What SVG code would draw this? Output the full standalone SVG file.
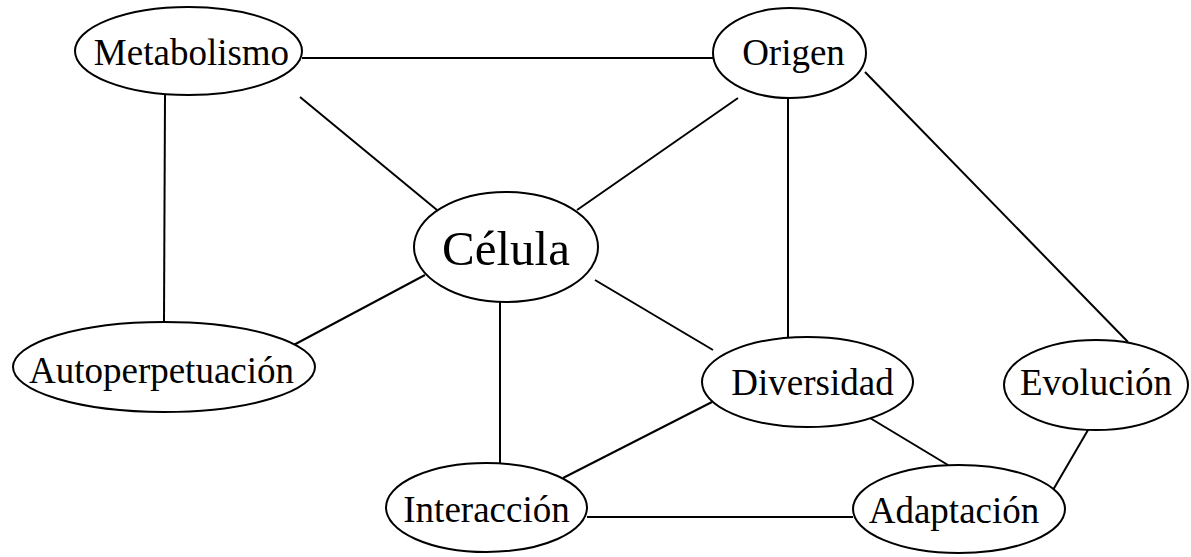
<svg xmlns="http://www.w3.org/2000/svg" width="1191" height="557" viewBox="0 0 1191 557">
  <style>
    .edge { stroke: #000; stroke-width: 2; fill: none; }
    .node ellipse { fill: #fff; stroke: #000; stroke-width: 2; }
    .node text { font-family: "Liberation Serif", "Times New Roman", serif; font-size: 37px; fill: #000; text-anchor: middle; }
    #celula text { font-size: 49px; }
  </style>
  <rect width="1191" height="557" fill="#fff"/>

  <!-- connectors -->
  <g id="connectors">
    <line class="edge" x1="302" y1="58" x2="713" y2="58"/>
    <line class="edge" x1="300" y1="97" x2="437" y2="210"/>
    <line class="edge" x1="165" y1="95" x2="164" y2="322"/>
    <line class="edge" x1="738" y1="98" x2="577" y2="210"/>
    <line class="edge" x1="788" y1="98" x2="788" y2="337"/>
    <line class="edge" x1="865" y1="72" x2="1128" y2="342"/>
    <line class="edge" x1="425" y1="275" x2="288" y2="348"/>
    <line class="edge" x1="595" y1="280" x2="713" y2="350"/>
    <line class="edge" x1="500" y1="302" x2="500" y2="463"/>
    <line class="edge" x1="712" y1="402" x2="563" y2="478"/>
    <line class="edge" x1="865" y1="415" x2="948" y2="465"/>
    <line class="edge" x1="1088" y1="430" x2="1053" y2="490"/>
    <line class="edge" x1="587" y1="517" x2="853" y2="517"/>
  </g>

  <!-- nodes -->
  <g id="metabolismo" class="node">
    <ellipse cx="188.5" cy="51" rx="113.5" ry="44"/>
    <text x="191.5" y="65">Metabolismo</text>
  </g>
  <g id="origen" class="node">
    <ellipse cx="789.5" cy="53" rx="76.5" ry="45"/>
    <text x="793.5" y="65">Origen</text>
  </g>
  <g id="celula" class="node">
    <ellipse cx="506" cy="247" rx="92" ry="55"/>
    <text x="506" y="265">Célula</text>
  </g>
  <g id="autoperpetuacion" class="node">
    <ellipse cx="164" cy="367" rx="151" ry="45"/>
    <text x="161.5" y="383">Autoperpetuación</text>
  </g>
  <g id="diversidad" class="node">
    <ellipse cx="807.5" cy="382" rx="105.5" ry="45"/>
    <text x="812.5" y="395">Diversidad</text>
  </g>
  <g id="evolucion" class="node">
    <ellipse cx="1096" cy="385" rx="92" ry="45"/>
    <text x="1096" y="395">Evolución</text>
  </g>
  <g id="interaccion" class="node">
    <ellipse cx="486.5" cy="507.5" rx="100.5" ry="44.5"/>
    <text x="486.5" y="522">Interacción</text>
  </g>
  <g id="adaptacion" class="node">
    <ellipse cx="959" cy="509" rx="106" ry="44"/>
    <text x="954" y="523">Adaptación</text>
  </g>
</svg>
